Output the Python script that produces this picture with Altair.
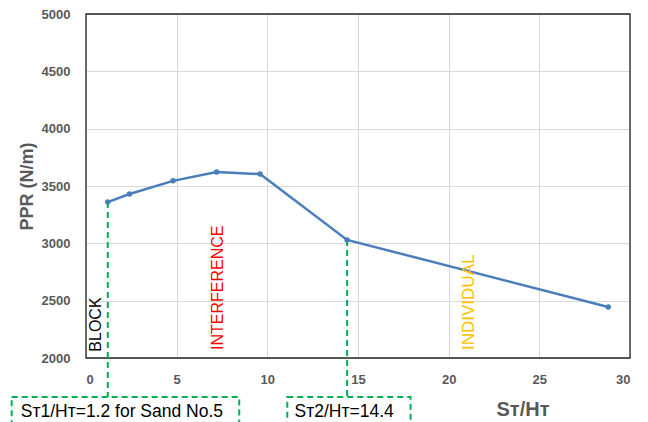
import altair as alt
import pandas as pd

# data
ratio = [1.2, 2.4, 4.8, 7.2, 9.6, 14.4, 28.8]
ppr = [3360, 3430, 3545, 3622, 3604, 3030, 2445]

x_ticks = [0, 5, 10, 15, 20, 25, 30]
y_ticks = [2000, 2500, 3000, 3500, 4000, 4500, 5000]

zone_labels = ["BLOCK", "INTERFERENCE", "INDIVIDUAL"]
zone_x = [0.55, 7.3, 21.1]
zone_y = [2055, 2070, 2070]
zone_colors = ["#000000", "#FF0000", "#FFC000"]
zone_sizes = [16, 16, 17]

guide_x = [1.2, 14.4]
guide_top = [3360, 3030]
guide_bottom = [1660, 1660]

box_x1 = [-4.1, 11.1]
box_x2 = [8.45, 17.9]
box_y1 = [1660, 1660]
box_y2 = [1380, 1380]
box_text = ["S\u1d1b1/H\u1d1b=1.2 for Sand No.5", "S\u1d1b2/H\u1d1b=14.4"]
box_text_x = [-3.6, 11.5]
box_text_y = [1485, 1485]

frame_x = [0]
frame_x2 = [30]
frame_y = [2000]
frame_y2 = [5000]

FONT = "Liberation Sans"
GRAY = "#595959"

df = pd.DataFrame({"x": ratio, "y": ppr})
zones = pd.DataFrame({"x": zone_x, "y": zone_y, "t": zone_labels, "c": zone_colors, "s": zone_sizes})
guides = pd.DataFrame({"x": guide_x, "y": guide_top, "y2": guide_bottom})
boxes = pd.DataFrame({"x": box_x1, "x2": box_x2, "y": box_y1, "y2": box_y2})
btext = pd.DataFrame({"x": box_text_x, "y": box_text_y, "t": box_text})
frame = pd.DataFrame({"x": frame_x, "x2": frame_x2, "y": frame_y, "y2": frame_y2})

xscale = alt.Scale(domain=[0, 30], nice=False, zero=False)
yscale = alt.Scale(domain=[2000, 5000], nice=False, zero=False)

xaxis = alt.Axis(values=x_ticks, title="S\u1d1b/H\u1d1b", grid=True, gridColor="#D9D9D9",
                 ticks=False, domain=False, labelFont=FONT, labelFontSize=13,
                 labelFontWeight="bold", labelColor=GRAY, labelPadding=15, format="d",
                 titleFont=FONT, titleFontSize=20, titleFontWeight="bold", titleColor=GRAY,
                 titleAnchor="start", titleX=410, titleY=57, titleBaseline="alphabetic",
                 titleAlign="left")
yaxis = alt.Axis(values=y_ticks, title="PPR (N/m)", grid=True, gridColor="#D9D9D9",
                 ticks=False, domain=False, labelFont=FONT, labelFontSize=13,
                 labelFontWeight="bold", labelColor=GRAY, labelPadding=16, format="d",
                 titleFont=FONT, titleFontSize=18, titleFontWeight="bold", titleColor=GRAY,
                 titlePadding=5)

line = alt.Chart(df).mark_line(color="#4A7EBB", strokeWidth=2.5, clip=False).encode(
    x=alt.X("x:Q", scale=xscale, axis=xaxis),
    y=alt.Y("y:Q", scale=yscale, axis=yaxis),
)
pts = alt.Chart(df).mark_point(filled=True, color="#4A7EBB", size=30, opacity=1).encode(
    x=alt.X("x:Q", scale=xscale), y=alt.Y("y:Q", scale=yscale)
)

frame_rect = alt.Chart(frame).mark_rect(filled=False, stroke="#262626", strokeWidth=1.3,
                                        clip=False).encode(
    x=alt.X("x:Q", scale=xscale), x2="x2:Q",
    y=alt.Y("y:Q", scale=yscale), y2="y2:Q"
)

guide_rules = alt.Chart(guides).mark_rule(color="#00B050", strokeWidth=2,
                                          strokeDash=[6, 4], clip=False).encode(
    x=alt.X("x:Q", scale=xscale), y=alt.Y("y:Q", scale=yscale), y2="y2:Q"
)

box_rects = alt.Chart(boxes).mark_rect(filled=False, stroke="#00B050", strokeWidth=2,
                                       strokeDash=[6, 4], clip=False).encode(
    x=alt.X("x:Q", scale=xscale), x2="x2:Q",
    y=alt.Y("y:Q", scale=yscale), y2="y2:Q"
)

box_labels = alt.Chart(btext).mark_text(align="left", baseline="alphabetic", font=FONT,
                                        fontSize=17.5, color="#000000", clip=False).encode(
    x=alt.X("x:Q", scale=xscale), y=alt.Y("y:Q", scale=yscale), text="t:N"
)

zone_text = alt.Chart(zones).mark_text(angle=270, align="left", baseline="middle",
                                       font=FONT).encode(
    x=alt.X("x:Q", scale=xscale), y=alt.Y("y:Q", scale=yscale), text="t:N",
    color=alt.Color("c:N", scale=None), size=alt.Size("s:Q", scale=None)
)

chart = alt.layer(frame_rect, guide_rules, line, pts, zone_text, box_rects, box_labels).properties(
    width=544, height=344,
    autosize=alt.AutoSizeParams(type="none"),
    padding={"left": 78, "top": 6, "right": 10, "bottom": 80},
).configure(background="white").configure_view(stroke=None)

chart.save("out.html", embed_options={"renderer": "svg", "actions": False})
